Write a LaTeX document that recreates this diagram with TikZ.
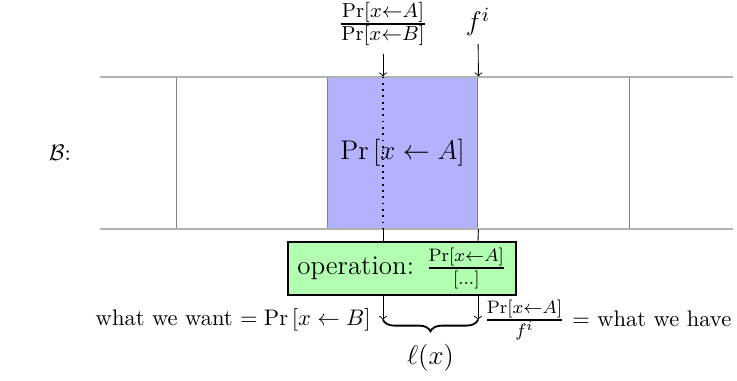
\documentclass[tikz,border=0pt]{standalone}
\usepackage{amsmath}
\usepackage{amssymb}
\usepackage{tikz}
\usetikzlibrary{positioning, decorations.pathreplacing}
\tikzstyle{cell} = [draw=gray, fill=blue!30, minimum width=67pt, minimum height=67.5pt, inner sep=0pt]
\tikzstyle{opbox} = [draw=black, thick, fill=green!30, minimum width=101pt, minimum height=23.5pt, inner sep=1pt, font=\large]
\tikzstyle{tape} = [gray!60, line width=0.8pt]
\tikzstyle{arrow} = [->]
\newcommand{\fracsize}{\fontsize{13}{15}\selectfont}

\begin{document}
\begin{tikzpicture}[x=0.444pt, y=-0.444pt]
\useasboundingbox (0,0) rectangle (737,381);

% Tape
\node [cell] (cur) at (402.5,153) {\large $\Pr\left[x \leftarrow A\right]$};
\draw [gray] (176,77) -- (176,229);
\draw [gray] (629,77) -- (629,229);
\draw [tape] (100,77) -- (733,77);
\draw [tape] (100,229) -- (733,229);
\node (tapename) at (60,153) {$\mathcal{B}$:};

% Inputs
\node (ratio) at (383,24) {\fracsize $\frac{\Pr[x\leftarrow A]}{\Pr[x\leftarrow B]}$};
\node (fi) at (478,22) {\fracsize $f^i$};
\draw [arrow] (ratio) -- (ratio |- cur.north);
\draw [arrow] (fi) -- (cur.north east);
\draw [thick, dotted] (ratio |- cur.north) -- (ratio |- cur.south);

% Operation
\node [opbox] (op) at (402,268.5) {operation: $\frac{\Pr[x\leftarrow A]}{[\ldots]}$};
\draw (ratio |- cur.south) -- (ratio |- op.north);
\draw (cur.south east) -- (fi |- op.north);

% Outputs
\coordinate (want) at (383,320);
\coordinate (have) at (478,320);
\draw [arrow] (ratio |- op.south) -- (want);
\draw [arrow] (fi |- op.south) -- (have);
\draw [thick, decorate, decoration={brace, mirror, amplitude=5pt}] (want) -- (have) node [midway, below=7pt] (ell) {\large $\ell(x)$};
\node [left=2pt of want] (wantlbl) {what we want $= \Pr\left[x \leftarrow B\right]$};
\node [right=0.5pt of have, inner sep=2pt] (havelbl) {{\fontsize{12}{14}\selectfont $\frac{\Pr[x\leftarrow A]}{f^i}$} $=$ what we have};

\end{tikzpicture}
\end{document}
